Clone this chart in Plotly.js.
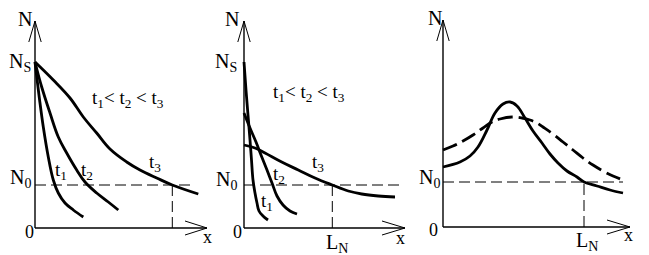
<!DOCTYPE html>
<html>
<head>
<meta charset="utf-8">
<script src="https://cdn.plot.ly/plotly-3.0.1.min.js"></script>
<style>html,body{margin:0;padding:0;background:#fff;}#chart{width:649px;height:255px;}</style>
</head>
<body>
<div id="chart"></div>
<script>
// ---- Panel 1: N(x) at times t1 < t2 < t3 (all start at Ns) ----
const p1_t1_x = [0, 0.46, 0.83, 1.33, 1.83, 2.33, 3.0, 3.83, 4.83];
const p1_t1_y = [16.6, 12.8, 10.1, 7.1, 4.8, 3.5, 2.5, 1.8, 1.1];
const p1_t2_x = [0, 0.67, 1.5, 2.33, 3.17, 4.17, 5.0, 6.17, 7.33, 8.33];
const p1_t2_y = [16.6, 14.1, 11.5, 9.1, 7.5, 5.8, 4.6, 3.5, 2.6, 1.8];
const p1_t3_x = [0, 1.83, 3.5, 4.83, 6.17, 7.5, 9.17, 10.5, 12.17, 13.73, 16.33];
const p1_t3_y = [16.6, 14.8, 13.0, 11.1, 9.5, 7.9, 6.6, 5.8, 5.0, 4.3, 3.4];
const p1_N0 = 4.3, p1_Ns = 16.6, p1_L = 13.73, p1_xEnd = 16.0;

// ---- Panel 2 ----
const p2_t1_x = [0, 0.2, 0.4, 0.6, 0.75, 0.9, 1.1, 1.3, 1.5, 1.9, 2.4];
const p2_t1_y = [16.6, 13.8, 11.3, 8.8, 6.8, 4.8, 3.5, 2.5, 1.7, 1.2, 0.8];
const p2_t2_x = [0, 0.6, 1.2, 1.7, 2.3, 2.8, 3.3, 3.9, 4.6, 5.3];
const p2_t2_y = [11.5, 10.0, 8.6, 7.3, 5.8, 4.5, 3.2, 2.3, 1.7, 1.4];
const p2_t3_x = [0, 1.1, 2.1, 3.77, 5.43, 7.1, 8.83, 10.43, 11.77, 13.43, 15.1];
const p2_t3_y = [8.3, 8.0, 7.5, 6.6, 5.8, 5.0, 4.3, 3.7, 3.4, 3.2, 3.1];
const p2_N0 = 4.3, p2_Ns = 16.6, p2_L = 8.83, p2_xEnd = 15.6;

// ---- Panel 3 ----
const p3_solid_x = [0, 1.7, 2.7, 3.5, 4.4, 5.2, 6.0, 6.7, 7.4, 8.2, 9.0, 9.9, 10.7, 11.5, 12.4, 13.4, 14.1, 15.4, 16.7, 18.0];
const p3_solid_y = [6.0, 6.5, 7.1, 8.0, 9.7, 11.4, 12.3, 12.5, 12.1, 10.9, 9.6, 8.4, 7.3, 6.4, 5.6, 5.0, 4.5, 4.1, 3.7, 3.4];
const p3_dash_x = [0, 1.0, 2.0, 3.0, 4.0, 4.9, 5.7, 6.9, 7.9, 8.7, 9.4, 10.0, 11.0, 12.0, 13.0, 14.0, 15.0, 16.0, 17.0, 18.0];
const p3_dash_y = [7.7, 8.1, 8.6, 9.2, 9.9, 10.5, 10.8, 11.0, 10.9, 10.7, 10.4, 10.0, 9.3, 8.5, 7.7, 6.9, 6.2, 5.6, 5.1, 4.7];
const p3_N0 = 4.5, p3_L = 14.1, p3_xEnd = 18.0;

const W = 649, H = 255;
const FONT = 'Liberation Serif, Times New Roman, serif';
const curve = (x, y, ax, dash) => ({
  x: x, y: y, xaxis: 'x' + ax, yaxis: 'y' + ax, type: 'scatter', mode: 'lines',
  line: {color: '#000', width: 2.8, shape: 'spline', smoothing: 1.1, dash: dash || 'solid'},
  hoverinfo: 'skip', showlegend: false
});

const traces = [
  curve(p1_t1_x, p1_t1_y, ''), curve(p1_t2_x, p1_t2_y, ''), curve(p1_t3_x, p1_t3_y, ''),
  curve(p2_t1_x, p2_t1_y, '2'), curve(p2_t2_x, p2_t2_y, '2'), curve(p2_t3_x, p2_t3_y, '2'),
  curve(p3_solid_x, p3_solid_y, '3'),
  curve(p3_dash_x, p3_dash_y, '3', '15px,6px')
];

// axis placement: origin pixel positions for each panel, 1 unit = 10 px
const panels = [
  {ox: 35, oy: 228, d: [0, 215], xTip: 17.2, arrowLeg: 15.0},
  {ox: 244, oy: 228, d: [215, 430], xTip: 16.1, arrowLeg: 13.8},
  {ox: 443, oy: 227, d: [430, 649], xTip: 18.7, arrowLeg: 16.4}
];
const layout = {
  width: W, height: H, margin: {l: 0, r: 0, t: 0, b: 0},
  paper_bgcolor: '#fff', plot_bgcolor: 'rgba(0,0,0,0)',
  showlegend: false, shapes: [], annotations: []
};
panels.forEach((p, i) => {
  const s = i === 0 ? '' : String(i + 1);
  layout['xaxis' + s] = {domain: [p.d[0] / W, p.d[1] / W], range: [(p.d[0] - p.ox) / 10, (p.d[1] - p.ox) / 10],
    visible: false, fixedrange: true, anchor: 'y' + s};
  layout['yaxis' + s] = {domain: [0, 1], range: [(p.oy - H) / 10, p.oy / 10], visible: false, fixedrange: true, anchor: 'x' + s};
  const xr = 'x' + s, yr = 'y' + s;
  const ln = (x0, y0, x1, y1, w, dash) => layout.shapes.push({type: 'line', xref: xr, yref: yr, x0, y0, x1, y1,
    line: {color: '#000', width: w, dash: dash || 'solid'}});
  // axes
  ln(0, 0, 0, 20.7, 1.4); ln(0, 0, p.xTip, 0, 1.4);
  // y arrow chevron
  ln(0, 20.7, -0.62, 18.6, 1); ln(0, 20.7, 0.62, 18.6, 1);
  // x arrow chevron
  ln(p.xTip, 0, p.arrowLeg, 0.7, 1); ln(p.xTip, 0, p.arrowLeg, -0.7, 1);
});
const dl = (s, x0, y0, x1, y1) => layout.shapes.push({type: 'line', xref: 'x' + s, yref: 'y' + s, x0, y0, x1, y1,
  line: {color: '#000', width: 1, dash: '11px,5px'}});
dl('', 0, p1_N0, p1_xEnd, p1_N0); dl('', p1_L, 0, p1_L, p1_N0);
dl('2', 0, p2_N0, p2_xEnd, p2_N0); dl('2', p2_L, 0, p2_L, p2_N0);
dl('3', 0, p3_N0, p3_xEnd, p3_N0); dl('3', p3_L, 0, p3_L, p3_N0);

const ann = (s, x, y, text, xa, size) => layout.annotations.push({xref: 'x' + s, yref: 'y' + s, x, y, text,
  showarrow: false, xanchor: xa || 'center', yanchor: 'middle', font: {family: FONT, size: size || 18, color: '#000'}});
const NS = 20, TS = 19;
// panel 1 labels
ann('', -1.0, 20.9, 'N', 'center', NS); ann('', -0.2, p1_Ns, 'N<sub>S</sub>', 'right', NS); ann('', -0.2, 5.0, 'N<sub>0</sub>', 'right', NS);
ann('', -0.6, -0.4, '0'); ann('', 17.2, -0.9, 'x');
ann('', 2.6, 5.7, 't<sub>1</sub>', 'center', TS); ann('', 5.15, 5.7, 't<sub>2</sub>', 'center', TS); ann('', 12.0, 6.5, 't<sub>3</sub>', 'center', TS);
ann('', 9.3, 12.9, 't<sub>1</sub>&lt; t<sub>2</sub> &lt; t<sub>3</sub>', 'center', TS);
// panel 2 labels
ann('2', -1.2, 20.9, 'N', 'center', NS); ann('2', -0.5, p2_Ns, 'N<sub>S</sub>', 'right', NS); ann('2', -0.5, 4.8, 'N<sub>0</sub>', 'right', NS);
ann('2', -0.65, -0.4, '0'); ann('2', 15.6, -1.0, 'x'); ann('2', p2_L + 0.5, -1.5, 'L<sub>N</sub>', 'center', NS);
ann('2', 2.3, 2.6, 't<sub>1</sub>', 'center', TS); ann('2', 3.5, 5.3, 't<sub>2</sub>', 'center', TS); ann('2', 7.4, 6.5, 't<sub>3</sub>', 'center', TS);
ann('2', 6.5, 13.5, 't<sub>1</sub>&lt; t<sub>2</sub> &lt; t<sub>3</sub>', 'center', TS);
// panel 3 labels
ann('3', -0.8, 20.9, 'N', 'center', NS); ann('3', -0.1, 4.9, 'N<sub>0</sub>', 'right', NS);
ann('3', -1.0, -0.3, '0'); ann('3', 18.5, -0.8, 'x'); ann('3', p3_L + 0.3, -1.4, 'L<sub>N</sub>', 'center', NS);

Plotly.newPlot('chart', traces, layout, {staticPlot: true, displayModeBar: false});
</script>
</body>
</html>
